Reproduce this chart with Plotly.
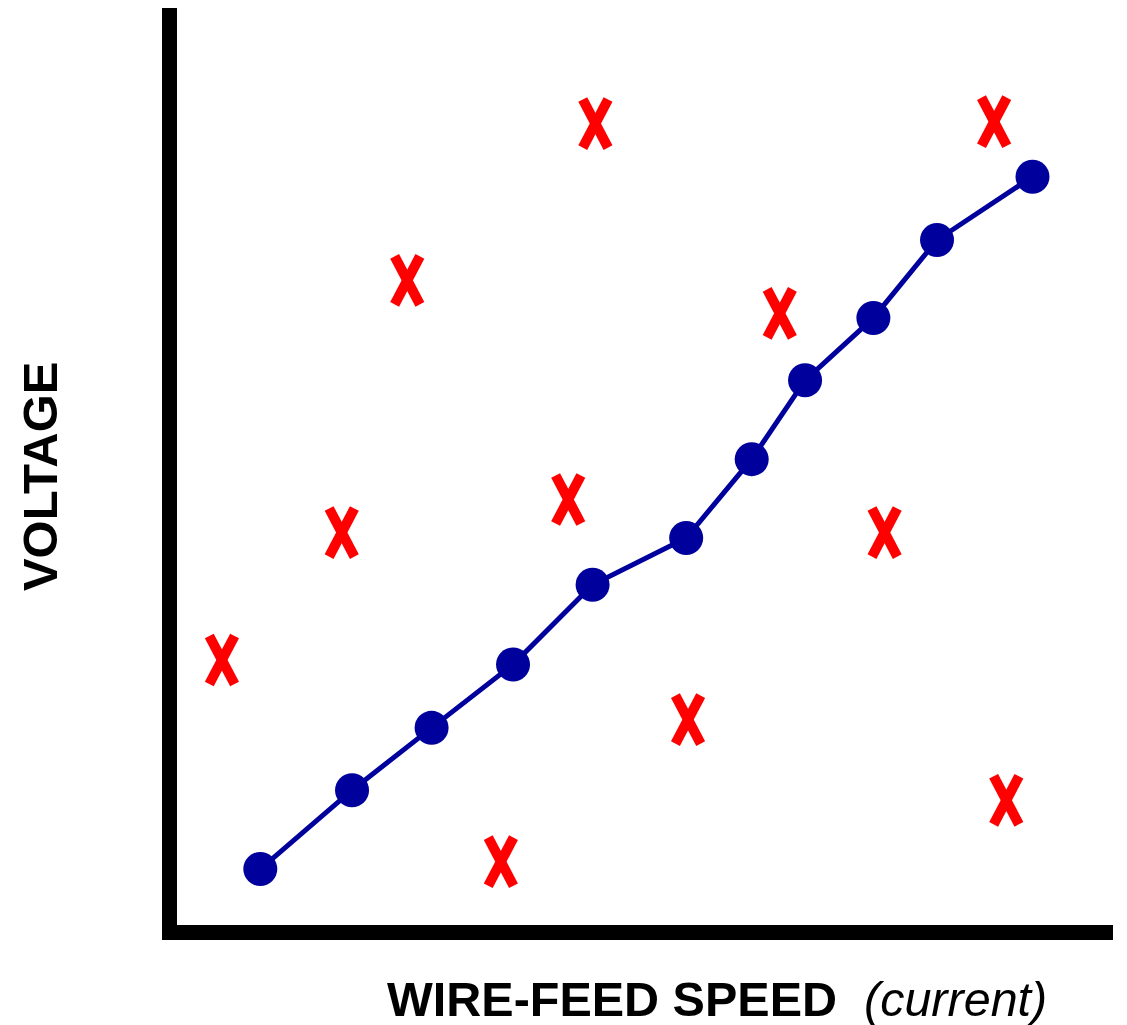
import plotly.graph_objects as go

# Blue welding-parameter line (wire-feed speed vs voltage), arbitrary units 0-100
line_x = [8.9, 18.7, 27.2, 35.9, 44.4, 54.4, 61.4, 67.1, 74.4, 81.2, 91.4]
line_y = [6.1, 14.7, 21.5, 28.4, 37.1, 42.2, 50.8, 59.4, 66.2, 74.7, 81.6]

# Red "X" (bad) settings
bad_x = [4.8, 17.6, 24.6, 44.7, 41.8, 34.6, 54.6, 64.4, 75.6, 87.3, 88.6]
bad_y = [28.9, 42.8, 70.3, 87.4, 46.4, 6.9, 22.4, 66.7, 42.8, 87.6, 13.6]

x_title = "<b>WIRE-FEED SPEED</b>  <i>(current)</i>"
y_title = "<b>VOLTAGE</b>"

# half-size of each drawn cross, in axis units
ARM_X, ARM_Y = 1.35, 2.62
cross_x, cross_y = [], []
for cx, cy in zip(bad_x, bad_y):
    cross_x += [cx - ARM_X, cx + ARM_X, None, cx - ARM_X, cx + ARM_X, None]
    cross_y += [cy + ARM_Y, cy - ARM_Y, None, cy - ARM_Y, cy + ARM_Y, None]

fig = go.Figure()
fig.add_trace(go.Scatter(
    x=line_x, y=line_y, mode="lines+markers",
    line=dict(color="#00009c", width=5),
    marker=dict(color="#00009c", size=34),
    hoverinfo="skip", showlegend=False))
fig.add_trace(go.Scatter(
    x=cross_x, y=cross_y, mode="lines",
    line=dict(color="#ff0000", width=10),
    hoverinfo="skip", showlegend=False))

fig.update_layout(
    width=1119, height=1017,
    margin=dict(l=169, r=14, t=0, b=100),
    paper_bgcolor="white", plot_bgcolor="white",
    xaxis=dict(range=[0, 100], showline=True, linecolor="black", linewidth=15,
               showgrid=False, zeroline=False, showticklabels=False, ticks=""),
    yaxis=dict(range=[0, 100], showline=True, linecolor="black", linewidth=15,
               showgrid=False, zeroline=False, showticklabels=False, ticks=""),
    annotations=[
        dict(text=x_title, xref="paper", yref="paper", x=0.577, y=-0.081,
             xanchor="center", yanchor="middle", showarrow=False,
             font=dict(family="Liberation Sans, Arial", size=48.5, color="black")),
        dict(text=y_title, xref="paper", yref="paper", x=-0.147, y=0.49,
             xanchor="center", yanchor="middle", showarrow=False, textangle=-90,
             font=dict(family="Liberation Sans, Arial", size=49, color="black")),
    ],
)

fig.write_html("out.html")
